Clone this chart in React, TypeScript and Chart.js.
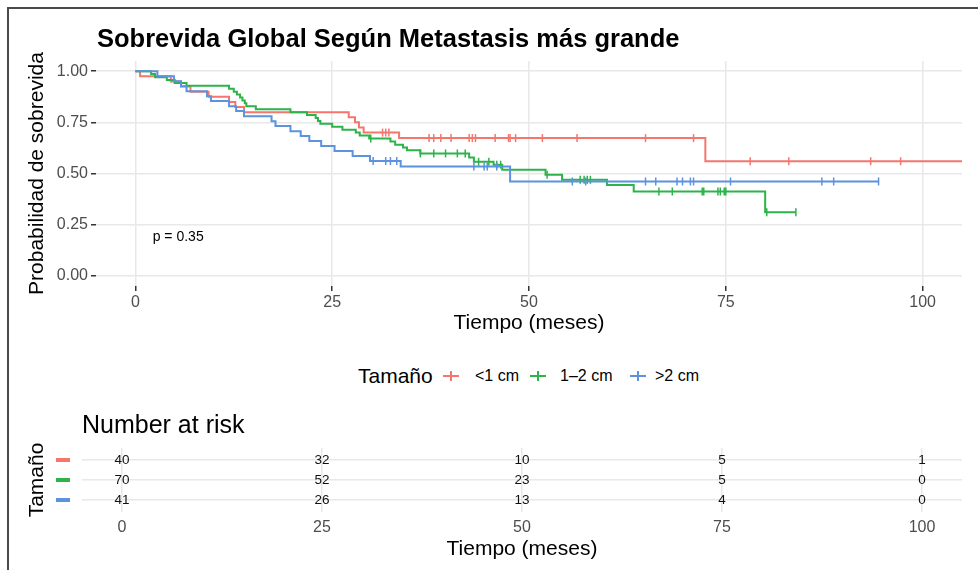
import React, { useEffect, useRef } from "react";
import { Chart, registerables } from "chart.js";

Chart.register(...registerables);

const FONT = "'Liberation Sans', Arial, Helvetica, sans-serif";

// ---- Survival curves (time in months, survival probability after the step) ----
const redTimes = [0, 0.6, 4.5, 5.8, 7.0, 9.3, 11.9, 12.7, 13.8, 27.1, 27.9, 28.4, 29.0, 33.5, 72.4, 106];
const redSurv = [1, 0.975, 0.95, 0.925, 0.9, 0.875, 0.85, 0.825, 0.8, 0.775, 0.75, 0.725, 0.7, 0.673, 0.56, 0.56];
const redCensor = [31.4, 31.8, 32.2, 37.3, 37.9, 38.8, 40.1, 42.4, 42.8, 43.2, 45.7, 47.4, 47.6, 48.3, 51.7, 56.1, 64.8, 70.9, 78.1, 83.0, 93.4, 97.2];

const greenTimes = [0, 2.0, 2.5, 4.0, 5.0, 6.5, 11.9, 12.5, 12.9, 13.3, 13.6, 13.9, 14.1, 15.3, 19.7, 21.8, 22.9, 23.2, 23.5, 25.0, 26.3, 28.0, 28.5, 29.7, 32.4, 33.0, 34.0, 34.5, 36.2, 42.4, 43.0, 45.5, 46.6, 52.1, 54.2, 59.9, 63.3, 80.0, 83.9];
const greenSurv = [1, 0.986, 0.971, 0.957, 0.943, 0.929, 0.914, 0.9, 0.886, 0.871, 0.857, 0.843, 0.829, 0.814, 0.8, 0.786, 0.771, 0.757, 0.743, 0.729, 0.714, 0.7, 0.686, 0.671, 0.657, 0.641, 0.627, 0.614, 0.598, 0.578, 0.557, 0.543, 0.518, 0.494, 0.469, 0.444, 0.412, 0.31, 0.31];
const greenCensor = [29.9, 36.2, 37.9, 39.4, 40.9, 41.9, 43.6, 44.9, 45.9, 46.4, 52.3, 56.5, 57.0, 57.4, 57.8, 66.5, 68.2, 72.0, 72.2, 74.0, 74.3, 74.8, 75.0, 80.2, 83.9];

const blueTimes = [0, 2.8, 4.9, 5.8, 6.5, 9.1, 9.6, 11.9, 12.8, 13.8, 17.3, 17.8, 19.7, 21.0, 22.1, 23.6, 25.3, 27.6, 29.8, 33.7, 47.6, 94.4];
const blueSurv = [1, 0.976, 0.951, 0.927, 0.902, 0.878, 0.854, 0.829, 0.805, 0.78, 0.756, 0.732, 0.707, 0.683, 0.659, 0.634, 0.61, 0.585, 0.561, 0.534, 0.461, 0.461];
const blueCensor = [30.2, 31.8, 32.4, 33.2, 43.0, 44.3, 44.7, 45.9, 55.5, 57.2, 64.8, 66.1, 68.8, 69.5, 70.5, 70.9, 75.6, 87.2, 88.7, 94.4];

const groupLabels = ["<1 cm", "1\u20132 cm", ">2 cm"];
const groupColors = ["#F4766D", "#2DB34A", "#5C92DE"];

const xTicks = [0, 25, 50, 75, 100];
const yTicks = [0, 0.25, 0.5, 0.75, 1];

const pValueText = "p = 0.35";
const pValueX = 2.2;
const pValueY = 0.19;

// ---- Number at risk ----
const riskTimes = [0, 25, 50, 75, 100];
const riskRed = [40, 32, 10, 5, 1];
const riskGreen = [70, 52, 23, 5, 0];
const riskBlue = [41, 26, 13, 4, 0];
const riskRows = [1, 2, 3];

function survAt(times: number[], surv: number[], t: number) {
  let v = surv[0];
  for (let i = 0; i < times.length; i++) {
    if (times[i] <= t) v = surv[i];
  }
  return v;
}

const GRID = "#E8E8E8";
const TICKTXT = "#4D4D4D";

const pvalPlugin = {
  id: "pval",
  afterDatasetsDraw(chart: any) {
    const { ctx, scales } = chart;
    ctx.save();
    ctx.font = `14px ${FONT}`;
    ctx.fillStyle = "#000";
    ctx.textAlign = "left";
    ctx.textBaseline = "middle";
    ctx.fillText(pValueText, scales.x.getPixelForValue(pValueX), scales.y.getPixelForValue(pValueY));
    ctx.restore();
  },
};

const riskPlugin = {
  id: "risklabels",
  afterDatasetsDraw(chart: any) {
    const { ctx, scales } = chart;
    ctx.save();
    ctx.font = `13.5px ${FONT}`;
    ctx.fillStyle = "#111";
    ctx.textAlign = "center";
    ctx.textBaseline = "middle";
    chart.data.datasets.forEach((ds: any, di: number) => {
      const meta = chart.getDatasetMeta(di);
      meta.data.forEach((pt: any, i: number) => {
        ctx.fillText(String(ds.counts[i]), pt.x, pt.y);
      });
      // colored key in place of y tick label
      const y = scales.y.getPixelForValue(riskRows[di]);
      ctx.fillStyle = ds.keyColor;
      ctx.fillRect(56, y - 2, 14, 4);
      ctx.fillStyle = "#111";
    });
    ctx.restore();
  },
};

function MainChart() {
  const ref = useRef<HTMLCanvasElement | null>(null);
  useEffect(() => {
    if (!ref.current) return;
    const curves = [
      [redTimes, redSurv, redCensor],
      [greenTimes, greenSurv, greenCensor],
      [blueTimes, blueSurv, blueCensor],
    ] as number[][][];
    const datasets: any[] = [];
    curves.forEach(([times, surv], gi) => {
      datasets.push({
        label: groupLabels[gi],
        data: times.map((t, i) => ({ x: t, y: surv[i] })),
        borderColor: groupColors[gi],
        backgroundColor: groupColors[gi],
        borderWidth: 2,
        stepped: true,
        pointRadius: 0,
        fill: false,
        order: 2 - gi,
      });
    });
    curves.forEach(([times, surv, cens], gi) => {
      datasets.push({
        label: groupLabels[gi] + " censor",
        data: cens.map((t) => ({ x: t, y: survAt(times, surv, t) })),
        borderColor: groupColors[gi],
        backgroundColor: groupColors[gi],
        showLine: false,
        pointStyle: "line",
        rotation: 90,
        pointRadius: 4,
        pointBorderWidth: 1.5,
        order: 2 - gi,
      });
    });
    const chart = new Chart(ref.current, {
      type: "line",
      data: { datasets },
      plugins: [pvalPlugin],
      options: {
        animation: false,
        responsive: false,
        parsing: true,
        layout: { padding: { left: 25, right: 16, top: 61, bottom: 0 } },
        plugins: { legend: { display: false }, tooltip: { enabled: false }, title: { display: false } },
        scales: {
          x: {
            type: "linear",
            min: -5,
            max: 105,
            afterBuildTicks: (s: any) => {
              s.ticks = xTicks.map((v) => ({ value: v }));
            },
            afterFit: (s: any) => {
              s.height = 59;
            },
            grid: { color: GRID, lineWidth: 1.5, tickColor: "#333", tickLength: 5, tickWidth: 1.5 },
            border: { display: false },
            ticks: { font: { family: FONT, size: 16 }, color: TICKTXT, padding: 2, maxRotation: 0 },
            title: { display: true, text: "Tiempo (meses)", font: { family: FONT, size: 21 }, color: "#000", padding: { top: 0, bottom: 9 } },
          },
          y: {
            type: "linear",
            min: -0.05,
            max: 1.05,
            afterBuildTicks: (s: any) => {
              s.ticks = yTicks.map((v) => ({ value: v }));
            },
            afterFit: (s: any) => {
              s.width = 71;
            },
            grid: { color: GRID, lineWidth: 1.5, tickColor: "#333", tickLength: 5, tickWidth: 1.5 },
            border: { display: false },
            ticks: { font: { family: FONT, size: 16 }, color: TICKTXT, padding: 3, callback: (v: any) => Number(v).toFixed(2) },
            title: { display: true, text: "Probabilidad de sobrevida", font: { family: FONT, size: 21 }, color: "#000", padding: 0 },
          },
        },
      } as any,
    });
    return () => chart.destroy();
  }, []);
  return <canvas ref={ref} width={978} height={345} style={{ position: "absolute", left: 0, top: 0 }} />;
}

function RiskChart() {
  const ref = useRef<HTMLCanvasElement | null>(null);
  useEffect(() => {
    if (!ref.current) return;
    const series = [riskRed, riskGreen, riskBlue];
    const datasets = series.map((counts, gi) => ({
      label: groupLabels[gi],
      data: riskTimes.map((t) => ({ x: t, y: riskRows[gi] })),
      counts,
      keyColor: groupColors[gi],
      showLine: false,
      pointRadius: 0,
      borderColor: "transparent",
      backgroundColor: "transparent",
    }));
    const chart = new Chart(ref.current, {
      type: "line",
      data: { datasets } as any,
      plugins: [riskPlugin],
      options: {
        animation: false,
        responsive: false,
        layout: { padding: { left: 25, right: 16, top: 48, bottom: 0 } },
        plugins: { legend: { display: false }, tooltip: { enabled: false } },
        scales: {
          x: {
            type: "linear",
            min: -5,
            max: 105,
            afterBuildTicks: (s: any) => {
              s.ticks = riskTimes.map((v) => ({ value: v }));
            },
            afterFit: (s: any) => {
              s.height = 58;
            },
            grid: { color: GRID, lineWidth: 1.5, drawTicks: false },
            border: { display: false },
            ticks: { font: { family: FONT, size: 16 }, color: TICKTXT, padding: 6, maxRotation: 0 },
            title: { display: true, text: "Tiempo (meses)", font: { family: FONT, size: 21 }, color: "#000", padding: { top: 0, bottom: 8 } },
          },
          y: {
            type: "linear",
            min: 0.4,
            max: 3.6,
            reverse: true,
            afterBuildTicks: (s: any) => {
              s.ticks = riskRows.map((v) => ({ value: v }));
            },
            afterFit: (s: any) => {
              s.width = 57;
            },
            grid: { color: GRID, lineWidth: 1.5, drawTicks: false },
            border: { display: false },
            ticks: { display: false },
            title: { display: true, text: "Tamaño", font: { family: FONT, size: 21 }, color: "#000", padding: 0 },
          },
        },
      } as any,
    });
    return () => chart.destroy();
  }, []);
  return <canvas ref={ref} width={978} height={170} style={{ position: "absolute", left: 0, top: 400 }} />;
}

function LegendKey({ color, cx, cy }: { color: string; cx: number; cy: number }) {
  return (
    <div style={{ position: "absolute", left: cx - 8, top: cy - 5, width: 16, height: 10 }}>
      <div style={{ position: "absolute", left: 0, top: 4, width: 16, height: 2, background: color }} />
      <div style={{ position: "absolute", left: 7, top: 0, width: 2, height: 10, background: color }} />
    </div>
  );
}

export default function App() {
  const legendY = 376;
  const textStyle = (size: number, left: number, cy: number, extra: any = {}) => ({
    position: "absolute" as const,
    left,
    top: cy - size * 0.6,
    fontSize: size,
    lineHeight: `${size * 1.2}px`,
    fontFamily: FONT,
    color: "#000",
    whiteSpace: "nowrap" as const,
    ...extra,
  });
  return (
    <div style={{ position: "absolute", left: 0, top: 0, width: 978, height: 570, background: "#fff", overflow: "hidden" }}>
      <div style={{ position: "absolute", left: 7, top: 7, width: 980, height: 580, borderTop: "2px solid #4a4a4a", borderLeft: "2px solid #4a4a4a" }} />
      <MainChart />
      <RiskChart />
      <div style={textStyle(25.5, 97, 38, { fontWeight: "bold" })}>Sobrevida Global Según Metastasis más grande</div>
      <div style={textStyle(21, 358, legendY)}>Tamaño</div>
      <LegendKey color={groupColors[0]} cx={451} cy={legendY} />
      <div style={textStyle(16, 475, legendY)}>{groupLabels[0]}</div>
      <LegendKey color={groupColors[1]} cx={538} cy={legendY} />
      <div style={textStyle(16, 560, legendY)}>{groupLabels[1]}</div>
      <LegendKey color={groupColors[2]} cx={638} cy={legendY} />
      <div style={textStyle(16, 655, legendY)}>{groupLabels[2]}</div>
      <div style={textStyle(25, 82, 424)}>Number at risk</div>
    </div>
  );
}
